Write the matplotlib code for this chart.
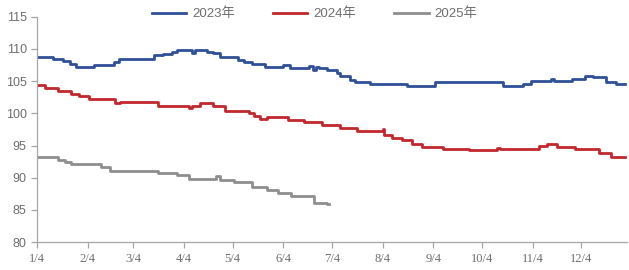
import matplotlib
matplotlib.use("Agg")
import matplotlib.pyplot as plt

plt.rcParams['font.family'] = ['Liberation Sans', 'Noto Sans CJK SC', 'DejaVu Sans']

# days since Jan 4 -> value (step breakpoints)
days_2023 = [0, 10, 16, 20, 24, 35, 47, 50, 72, 77, 83, 86, 95, 97, 104, 108, 112, 123, 127,
             132, 140, 151, 155, 167, 169, 171, 173, 176, 178, 184, 186, 192, 195, 204, 227,
             244, 286, 298, 303, 315, 317, 328, 336, 341, 349, 355, 361]
vals_2023 = [108.8, 108.5, 108.1, 107.6, 107.2, 107.5, 107.9, 108.4, 109.0, 109.2, 109.6, 109.8,
             109.4, 109.8, 109.6, 109.3, 108.7, 108.3, 108.0, 107.6, 107.2, 107.5, 107.1, 107.4,
             106.8, 107.2, 107.0, 107.1, 106.7, 106.3, 105.8, 105.2, 104.9, 104.6, 104.2, 104.8,
             104.2, 104.5, 105.1, 105.4, 105.1, 105.4, 105.8, 105.6, 104.9, 104.5, 104.5]

days_2024 = [0, 5, 13, 21, 26, 32, 48, 51, 74, 93, 95, 100, 108, 115, 130, 133, 137, 141, 154,
             164, 175, 186, 196, 212, 213, 218, 224, 230, 236, 249, 265, 282, 284, 308, 313, 319,
             330, 345, 352, 361]
vals_2024 = [104.4, 103.9, 103.5, 103.0, 102.7, 102.3, 101.6, 101.8, 101.1, 100.8, 101.1, 101.6,
             101.1, 100.4, 100.0, 99.6, 99.1, 99.4, 99.0, 98.6, 98.2, 97.8, 97.2, 97.5, 96.6,
             96.2, 95.8, 95.3, 94.8, 94.5, 94.3, 94.7, 94.5, 94.9, 95.2, 94.8, 94.5, 93.9, 93.3, 93.3]

days_2025 = [0, 13, 17, 21, 39, 45, 74, 86, 93, 110, 112, 121, 132, 141, 148, 156, 170, 178, 179]
vals_2025 = [93.2, 92.8, 92.4, 92.1, 91.6, 91.1, 90.7, 90.4, 89.8, 90.2, 89.7, 89.4, 88.5, 88.1,
             87.6, 87.2, 86.1, 86.0, 85.9]

tick_days = [0, 31, 59, 90, 120, 151, 181, 212, 243, 273, 304, 334]
tick_labels = ['1/4', '2/4', '3/4', '4/4', '5/4', '6/4', '7/4', '8/4', '9/4', '10/4', '11/4', '12/4']
y_ticks = [80, 85, 90, 95, 100, 105, 110, 115]

fig = plt.figure(figsize=(6.29, 2.70), dpi=100)
ax = fig.add_axes([0.059, 0.103, 0.938, 0.835])

ax.plot(days_2023, vals_2023, drawstyle='steps-post', color='#2F4F98', lw=2.0, label='2023年')
ax.plot(days_2024, vals_2024, drawstyle='steps-post', color='#C1272D', lw=2.0, label='2024年')
ax.plot(days_2025, vals_2025, drawstyle='steps-post', color='#8E8E8E', lw=2.0, label='2025年')

ax.set_xlim(0, 362)
ax.set_ylim(80, 115)
ax.set_xticks(tick_days)
ax.set_xticklabels(tick_labels, family=['Liberation Serif', 'DejaVu Serif'])
ax.set_yticks(y_ticks)

for s in ['top', 'right']:
    ax.spines[s].set_visible(False)
for s in ['left', 'bottom']:
    ax.spines[s].set_color('#A6A6A6')
    ax.spines[s].set_linewidth(0.9)
ax.tick_params(axis='both', direction='out', length=4, width=0.9, color='#A6A6A6',
               labelcolor='#6E6E6E', labelsize=9, pad=3.5)

leg = fig.legend(loc='center', bbox_to_anchor=(0.5, 0.948), ncol=3, frameon=False,
                 fontsize=9.5, handlelength=2.6, handletextpad=0.45, columnspacing=2.9,
                 labelcolor='#6E6E6E')

fig.savefig('out.png', dpi=100)
